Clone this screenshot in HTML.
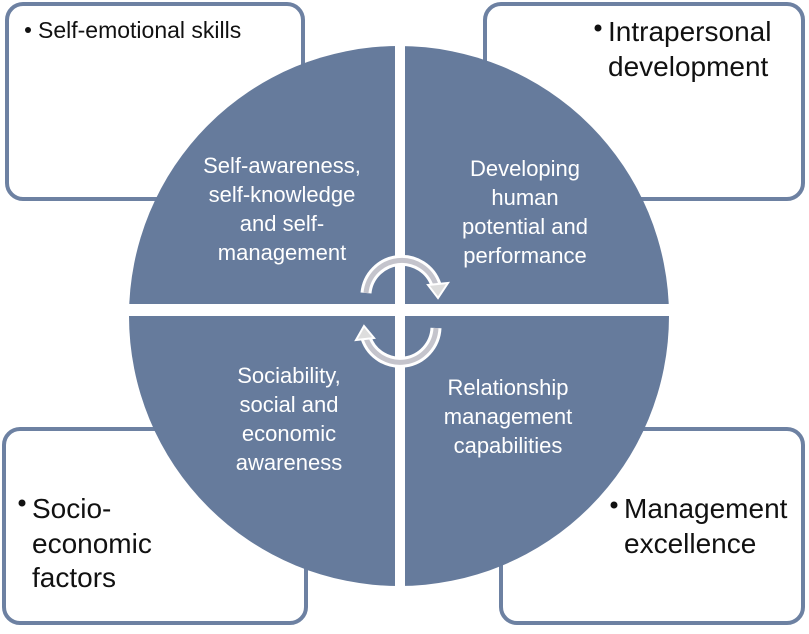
<!DOCTYPE html>
<html><head><style>
body{margin:0;background:#fff;}
svg text{font-family:"Liberation Sans",sans-serif;}
</style></head><body>
<svg width="809" height="629" viewBox="0 0 809 629" xmlns="http://www.w3.org/2000/svg">
<g fill="#fff" stroke="#6d81a2" stroke-width="4">
<rect x="7" y="4" width="296" height="195" rx="16"/>
<rect x="485" y="4" width="318" height="195" rx="16"/>
<rect x="4" y="429" width="302" height="194" rx="16"/>
<rect x="501" y="429" width="302" height="194" rx="16"/>
</g>
<g font-size="23" fill="#111">
<circle cx="28" cy="30" r="3" fill="#111"/>
<text x="38" y="38">Self-emotional skills</text>
<circle cx="598" cy="28" r="3.5" fill="#111"/>
<text x="608" y="41" font-size="28">Intrapersonal</text>
<text x="608" y="76" font-size="28">development</text>
<circle cx="22" cy="503" r="3.5" fill="#111"/>
<text x="32" y="518" font-size="28">Socio-</text>
<text x="32" y="553" font-size="28">economic</text>
<text x="32" y="587" font-size="28">factors</text>
<circle cx="614" cy="505" r="3.5" fill="#111"/>
<text x="624" y="518" font-size="28">Management</text>
<text x="624" y="553" font-size="28">excellence</text>
</g>
<circle cx="399" cy="316" r="270" fill="#667b9c"/>
<rect x="395" y="40" width="10" height="560" fill="#fff"/>
<rect x="120" y="304" width="560" height="12" fill="#fff"/>
<g fill="none" stroke-linecap="butt">
<path d="M366 293 A36 36 0 0 1 436 285" stroke="#fff" stroke-width="11"/>
<path d="M366 293 A36 36 0 0 1 436 285" stroke="#c4c4cc" stroke-width="5"/>
<path d="M436 328 A36 36 0 0 1 366 338" stroke="#fff" stroke-width="11"/>
<path d="M436 328 A36 36 0 0 1 366 338" stroke="#c4c4cc" stroke-width="5"/>
</g>
<polygon points="428,285 448,283 438,298" fill="#ddd" stroke="#fff" stroke-width="2"/>
<polygon points="374,338 356,340 364,326" fill="#ddd" stroke="#fff" stroke-width="2"/>
<g font-size="22" fill="#fff" text-anchor="middle">
<text x="282" y="173">Self-awareness,</text>
<text x="282" y="202">self-knowledge</text>
<text x="282" y="231">and self-</text>
<text x="282" y="260">management</text>
<text x="525" y="176">Developing</text>
<text x="525" y="205">human</text>
<text x="525" y="234">potential and</text>
<text x="525" y="263">performance</text>
<text x="289" y="383">Sociability,</text>
<text x="289" y="412">social and</text>
<text x="289" y="441">economic</text>
<text x="289" y="470">awareness</text>
<text x="508" y="395">Relationship</text>
<text x="508" y="424">management</text>
<text x="508" y="453">capabilities</text>
</g>
</svg>
</body></html>
